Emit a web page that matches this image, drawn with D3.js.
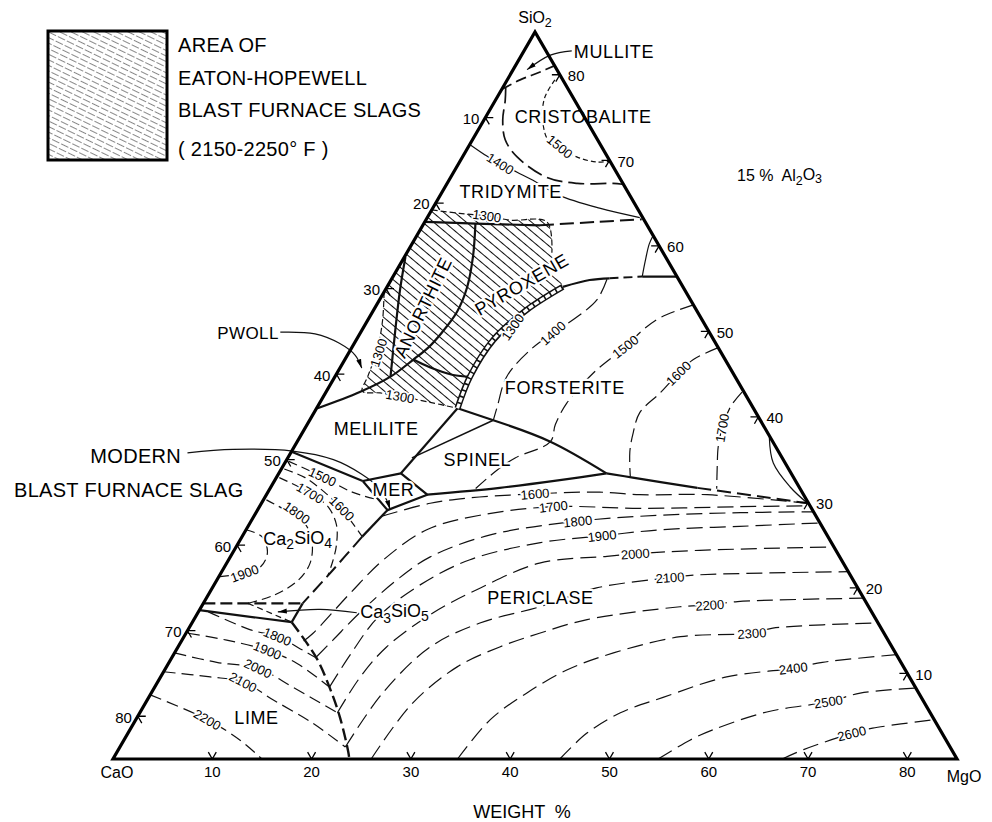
<!DOCTYPE html>
<html><head><meta charset="utf-8">
<script src="https://cdn.jsdelivr.net/npm/d3@7"></script>
<style>
html,body{margin:0;padding:0;background:#fff;}
svg{display:block;}
text{font-family:"Liberation Sans",Arial,sans-serif;fill:#000;}
</style></head><body>
<svg id="chart" width="992" height="822"></svg>
<script>
// ================= DATA =================
// Section CaO-MgO-SiO2 at 15 % Al2O3 : CaO + MgO + SiO2 = 85 wt %
// every composition is [MgO wt %, SiO2 wt %]  (CaO = 85 - MgO - SiO2)
const TOTAL = 85;
const tickValues = [10,20,30,40,50,60,70,80];

// ---- field boundaries ----
const mulliteBoundary   = [[0,78.3],[1.3,79.4],[2.8,80.3],[4.0,81.1]];
const cristTridBoundary = [[0.3,78.5],[1.0,77.0],[1.9,74.7],[3.3,72.4],[5.5,70.4],[9.7,68.0],[13.1,67.3],[16.7,67.3],[17.7,67.2]];
const anTridBoundary    = [[0,62.8],[5.2,62.6],[11.8,62.4]];
const tridPyxBoundary   = [[11.8,62.4],[17.4,62.8],[21.7,63.1]];
const anPyxBoundary     = [[5.2,62.6],[6.9,58.7],[8.1,55.1],[8.5,52.3],[8.2,49.9],[7.7,48.1],[6.9,46.7],[5.6,44.7],[3.4,42.9],[0.1,41.0]];
const anWollBoundary    = [[0.1,58.7],[1.5,54.8],[3.5,49.8],[5.6,44.7]];
const anMelBoundary     = [[6.9,46.7],[9.0,45.8],[11.8,44.9],[13.6,44.7]];
const pyxFoBoundary     = [[14.2,41.0],[13.6,44.7],[13.8,49.0],[15.4,52.5],[17.7,55.2]];
const pyxFoUpper        = [[17.7,55.2],[20.0,56.0],[21.9,56.2]];
const pyxFoUpperDashed  = [[21.9,56.2],[25.1,56.4]];
const pyxFoEdge         = [[25.1,56.4],[28.6,56.4]];
const protoBoundary     = [[25.1,56.4],[24.5,58.2],[23.9,60.2],[23.8,61.1]];
const foMelBoundary     = [[14.2,41.0],[18.5,39.6]];
const melSpBoundary     = [[14.2,41.0],[12.3,33.4]];
const spInnerBoundary   = [[12.5,35.2],[18.5,39.6]];
const melC2SBoundary    = [[0.1,35.9],[8.9,32.5]];
const merBoundary       = [[8.9,32.5],[12.3,33.4],[16.2,30.9],[13.1,29.1],[8.9,32.5]];
const spPerBoundary     = [[16.2,30.9],[23.1,31.7],[28.7,32.6],[33.0,33.4]];
const foSpBoundary      = [[18.5,39.6],[25.5,37.1],[33.0,33.4]];
const foPerBoundary     = [[33.0,33.4],[35.9,32.9],[43.0,31.7]];
const foPerDashed       = [[43.0,31.7],[49.8,30.7],[55.0,29.9]];
const edgeArc           = [[47.3,37.6],[49.2,34.6],[52.3,31.8],[55.0,29.9]];
const c2sPerBoundary    = [[13.1,29.1],[12.1,26.0]];
const c2sPerDashed      = [[12.1,26.0],[11.1,22.1],[10.0,18.2]];
const c3sTop            = [[0,18.2],[10.0,18.2]];
const c3sBottom         = [[0,17.4],[10.0,16.0]];
const c3sSide           = [[10.0,18.2],[10.0,16.0]];
const c3sDiag           = [[4.5,18.2],[10.0,16.0]];
const limePerBoundary   = [[10.0,16.0],[14.6,11.8],[17.6,8.4],[20.4,4.9],[23.3,0.8],[23.8,0]];

// ---- isotherms (deg C) ----
const iso1500Crist = [[4.8,79.4],[4.8,77.4],[5.7,75.1],[7.6,72.4],[9.2,71.6],[11.5,70.4],[13.8,69.8],[15.1,69.9]];
const iso1400Trid  = [[0.1,71.8],[2.4,70.5],[4.2,69.6],[6.4,68.6],[8.8,67.5],[12.0,65.9],[16.8,64.4],[21.4,63.3]];
const iso1300Top   = [[0,64.2],[3.0,63.8],[5.9,63.5],[8.5,63.0],[12.3,62.8],[14.6,59.2]];
const iso1300Low   = [[0,54.6],[1.5,51.3],[2.7,47.8],[3.3,44.7],[3.6,43.0],[5.5,42.8],[7.7,42.4],[11.1,41.7],[14.2,41.0]];
const iso1400Fo    = [[21.7,56.1],[21.9,53.7],[20.9,51.7],[19.4,49.8],[18.1,47.8],[17.3,44.7],[18.1,41.2],[18.5,39.6]];
const iso1500Fo    = [[31.9,53.1],[29.3,51.6],[28.3,50.2],[27.5,48.2],[25.8,45.1],[24.9,41.6],[25.0,39.1],[25.5,37.1],[22.9,35.2],[21.8,33.8],[20.7,31.6]];
const iso1600Fo    = [[36.9,48.1],[35.1,46.7],[34.4,45.1],[33.7,42.8],[32.8,40.5],[33.3,38.2],[34.1,35.9],[35.6,33.0]];
const iso1700Fo    = [[41.9,42.9],[41.6,41.2],[42.0,38.7],[42.7,36.5],[43.8,34.1],[45.0,31.6]];
const iso1500C2S   = [[0.3,34.8],[4.6,33.0],[8.5,31.2],[11.6,30.3]];
const iso1600C2S   = [[0.3,33.9],[2.9,32.9],[5.7,31.2],[8.1,29.5],[10.2,27.7],[12.1,26.0]];
const iso1700C2S   = [[0.3,32.9],[4.3,31.1],[6.9,29.5],[8.8,27.4],[10.0,25.0],[10.6,23.0],[10.9,21.5]];
const iso1800C2S   = [[0.3,30.3],[3.4,28.8],[5.7,27.4],[7.4,25.3],[8.4,22.9],[8.2,20.9],[6.7,19.2],[4.5,18.2]];
const iso1900C2S   = [[0,26.8],[2.0,26.0],[3.5,24.1],[3.6,22.4],[2.2,21.7],[0,21.3]];
const iso1800Lime  = [[1.0,17.2],[6.3,15.1],[9.4,14.3],[12.8,12.7],[14.6,11.8]];
const iso1900Lime  = [[0.2,14.7],[4.5,13.9],[9.2,12.7],[12.9,11.2],[17.6,8.4]];
const iso2000Lime  = [[0,12.4],[4.8,11.3],[9.3,10.6],[13.9,8.4],[19.9,5.4]];
const iso2100Lime  = [[0,10.2],[5.0,9.6],[8.6,9.0],[12.7,6.9],[18.0,4.2],[22.7,1.4]];
const iso2200Lime  = [[0,7.5],[7.2,4.6],[11.7,2.2],[15.0,0]];
const iso1600Per   = [[12.9,28.4],[17.0,29.9],[20.4,30.5],[27.0,31.0],[33.4,31.2],[37.6,30.9],[44.4,30.9],[55.0,29.9]];
const iso1700Per   = [[12.3,13.8],[12.8,14.7],[14.2,19.4],[15.6,23.3],[18.2,26.8],[22.7,28.5],[29.6,29.5],[38.4,29.3],[48.4,29.5],[55.4,29.6]];
const iso1800Per   = [[14.5,11.9],[15.2,13.9],[16.3,17.1],[18.1,20.9],[20.1,23.6],[24.9,26.2],[32.9,27.8],[40.8,28.5],[48.8,28.8],[56.1,28.9]];
const iso1900Per   = [[17.6,8.4],[17.8,12.2],[18.4,16.6],[20.7,20.3],[24.3,23.3],[30.4,25.3],[36.2,26.1],[41.7,26.8],[49.5,27.2],[57.4,27.6]];
const iso2000Per   = [[19.9,5.4],[20.1,9.5],[21.0,13.1],[23.7,17.1],[27.0,20.0],[31.5,22.9],[37.9,23.7],[40.6,24.0],[46.9,24.4],[60.1,24.8]];
const iso2100Per   = [[22.7,1.4],[23.3,7.7],[25.4,13.1],[29.0,15.9],[34.1,17.8],[38.7,20.0],[45.5,21.2],[47.7,21.5],[63.1,21.9]];
const iso2200Per   = [[26.0,0],[26.9,6.5],[29.3,10.8],[32.4,13.1],[35.6,14.7],[39.6,16.3],[48.2,17.8],[51.1,18.0],[53.7,18.4],[66.1,18.8]];
const iso2300Per   = [[34.7,0],[35.7,4.6],[37.8,7.7],[40.5,10.4],[44.2,12.4],[50.0,14.3],[57.0,14.7],[58.8,15.3],[69.1,15.9]];
const iso2400Per   = [[45.0,0],[46.2,3.0],[48.4,5.4],[51.8,7.2],[57.0,9.6],[63.2,10.6],[65.8,11.3],[72.8,12.2]];
const iso2500Per   = [[54.9,0],[57.0,2.2],[58.7,3.4],[63.1,5.5],[68.7,6.7],[71.4,7.7],[76.7,8.3]];
const iso2600Per   = [[67.4,0],[69.0,1.1],[72.9,3.0],[74.7,3.6],[80.4,4.6]];

// ---- leaders ----
const mulliteLeader = [[4.8,82.8],[2.9,82.3],[1.4,80.6]];
const pwollLeader   = [[-8.1,49.9],[-4.5,49.7],[-1.5,48.6],[0.8,47.2],[2.2,45.7]];
const modernLeader  = [[-10.4,35.8],[-6.0,36.2],[0.1,36.0],[4.7,35.0],[8.4,33.3],[10.8,31.8],[12.4,30.3],[13.3,29.2]];
const c3sLeader     = [[16.0,17.1],[12.1,17.5],[8.0,17.2]];

// ---- text ----
const fieldNames  = ["CRISTOBALITE","TRIDYMITE","ANORTHITE","PYROXENE","FORSTERITE","MELILITE","SPINEL","MER","PERICLASE","LIME"];
const fieldAt     = [[9.8,75.1],[6.9,66.3],[4.8,52.8],[13.4,55.5],[23.8,43.4],[7.2,38.6],[19.2,35.0],[12.5,31.5],[33.6,18.9],[12.0,4.9]];
const isoText     = ["1500","1400","1300","1300","1300","1300","1400","1500","1600","1700",
                     "1500","1600","1700","1800","1900",
                     "1800","1900","2000","2100","2200",
                     "1600","1700","1800","1900","2000","2100","2200","2300","2400","2500","2600"];
const isoTextAt   = [[9.2,71.6],[4.2,69.6],[5.9,63.5],[3.0,47.5],[7.7,42.4],[15.0,50.5],[19.4,49.8],[27.5,48.2],[34.4,45.1],[42.0,38.7],
                     [4.6,33.0],[8.4,29.3],[4.3,31.1],[4.1,28.8],[2.4,21.7],
                     [9.4,14.3],[9.2,12.7],[9.3,10.6],[8.6,9.0],[7.2,4.6],
                     [27.0,31.0],[29.6,29.5],[32.9,27.8],[36.2,26.1],[40.6,24.0],[45.5,21.2],[51.1,18.0],[57.0,14.7],[63.2,10.6],[68.7,6.7],[72.9,3.0]];
const legendLines = ["AREA OF","EATON-HOPEWELL","BLAST FURNACE SLAGS","( 2150-2250° F )"];

// ================= LAYOUT / STYLE =================
const svg = d3.select('#chart');
const xB = d3.scaleLinear().domain([0,TOTAL]).range([113,957]);
const yH = d3.scaleLinear().domain([0,TOTAL]).range([759,32]);
const P = ([m,s]) => [xB(m) + (xB(s)-xB(0))/2, yH(s)];
const smooth   = d3.line().x(d=>P(d)[0]).y(d=>P(d)[1]).curve(d3.curveCatmullRom.alpha(0.5));
const straight = d3.line().x(d=>P(d)[0]).y(d=>P(d)[1]).curve(d3.curveLinear);

const defs = svg.append('defs');
const pat = defs.append('pattern').attr('id','hatch').attr('patternUnits','userSpaceOnUse')
  .attr('width',7).attr('height',7).attr('patternTransform','rotate(40)');
pat.append('line').attr('x1',0).attr('y1',3.5).attr('x2',7).attr('y2',3.5).attr('stroke','#000').attr('stroke-width',0.95);
const patL = defs.append('pattern').attr('id','hatchL').attr('patternUnits','userSpaceOnUse')
  .attr('width',10).attr('height',5).attr('patternTransform','rotate(26)');
patL.append('line').attr('x1',0).attr('y1',2.5).attr('x2',10).attr('y2',2.5).attr('stroke','#555')
  .attr('stroke-width',0.7).attr('stroke-dasharray','6,2');
defs.append('marker').attr('id','arrow').attr('viewBox','0 0 10 10').attr('refX',10).attr('refY',5)
  .attr('markerWidth',9).attr('markerHeight',9).attr('markerUnits','userSpaceOnUse').attr('orient','auto')
  .append('path').attr('d','M0,2.2 L10,5 L0,7.8 Z').attr('fill','#000');

function draw(g, pts, gen, w, dash, marker){
  const p = g.append('path').attr('d', gen(pts)).attr('fill','none').attr('stroke','#111')
    .attr('stroke-width', w).attr('stroke-linejoin','round');
  if (dash) p.attr('stroke-dasharray', dash);
  if (marker) p.attr('marker-end', 'url(#'+marker+')');
  return p;
}
function joinPaths(pieces){ return pieces.map((d,i)=> i ? d.replace(/^M/,'L') : d).join('') + 'Z'; }

// hatched Eaton-Hopewell slag area
svg.append('path').attr('fill','url(#hatch)').attr('d', joinPaths([
  straight([[0,64.2],[0,54.6]]),
  smooth(iso1300Low),
  smooth(pyxFoBoundary),
  straight([pyxFoBoundary[pyxFoBoundary.length-1], iso1300Top[iso1300Top.length-1]]),
  smooth(iso1300Top.slice().reverse())
]));

// isotherms
const gIso = svg.append('g');
[[iso1500Crist,'5,3'],[iso1400Trid,null],[iso1300Top,'6,3'],[iso1300Low,'6,3'],
 [iso1400Fo,'16,6'],[iso1500Fo,'14,6'],[iso1600Fo,'14,6'],[iso1700Fo,'14,6'],
 [iso1500C2S,'9,5'],[iso1600C2S,'9,5'],[iso1700C2S,'9,5'],[iso1800C2S,'9,5'],[iso1900C2S,'9,5'],
 [iso1800Lime,'12,6'],[iso1900Lime,'12,6'],[iso2000Lime,'12,6'],[iso2100Lime,'12,6'],[iso2200Lime,'12,6'],
 [iso1600Per,'16,7'],[iso1700Per,'16,7'],[iso1800Per,'16,7'],[iso1900Per,'16,7'],[iso2000Per,'16,7'],
 [iso2100Per,'16,7'],[iso2200Per,'16,7'],[iso2300Per,'16,7'],[iso2400Per,'16,7'],[iso2500Per,'16,7'],[iso2600Per,'16,7']
].forEach(([pts,dash]) => draw(gIso, pts, smooth, 1.2, dash));

// boundaries
const gB = svg.append('g');
const BW = 2.2;
draw(gB, mulliteBoundary, smooth, 1.7, '11,5');
draw(gB, cristTridBoundary, smooth, 1.7, '16,6');
draw(gB, anTridBoundary, smooth, BW);
draw(gB, tridPyxBoundary, smooth, 2, '14,6');
draw(gB, anPyxBoundary, smooth, BW);
draw(gB, anWollBoundary, smooth, BW);
draw(gB, anMelBoundary, smooth, BW);
draw(gB, pyxFoUpper, smooth, BW);
draw(gB, pyxFoUpperDashed, straight, 2, '9,5');
draw(gB, pyxFoEdge, straight, BW);
draw(gB, protoBoundary, smooth, 1.2);
draw(gB, foMelBoundary, straight, BW);
draw(gB, melSpBoundary, straight, BW);
draw(gB, spInnerBoundary, straight, 1.5);
draw(gB, melC2SBoundary, straight, BW);
draw(gB, merBoundary, straight, BW);
draw(gB, spPerBoundary, smooth, BW);
draw(gB, foSpBoundary, smooth, BW);
draw(gB, foPerBoundary, smooth, BW);
draw(gB, foPerDashed, smooth, 2, '14,6');
draw(gB, edgeArc, smooth, 1.2);
draw(gB, c2sPerBoundary, straight, BW);
draw(gB, c2sPerDashed, smooth, 2, '14,6');
draw(gB, c3sTop, straight, 2.2, '12,5');
draw(gB, c3sBottom, straight, BW);
draw(gB, c3sSide, straight, BW);
draw(gB, c3sDiag, straight, 1.2, '6,4');
draw(gB, limePerBoundary, smooth, 2.4, '12,5');
// 1300 "railroad" boundary
draw(gB, pyxFoBoundary, smooth, 6.2);
draw(gB, pyxFoBoundary, smooth, 3.2, '5,1.6').attr('stroke','#fff');

// leaders
draw(gB, mulliteLeader, smooth, 1.2, null, 'arrow');
draw(gB, pwollLeader, smooth, 1.2, null, 'arrow');
draw(gB, modernLeader, smooth, 1.2, null, 'arrow');
draw(gB, c3sLeader, smooth, 1.2, null, 'arrow');

// ---- text helpers ----
function txt(g, str, xy, size, opt){
  opt = opt || {};
  const t = g.append('text')
    .attr('transform', 'translate('+xy[0]+','+xy[1]+') rotate('+(opt.rot||0)+')')
    .attr('text-anchor', opt.anchor || 'middle').attr('dy','0.36em')
    .style('font-size', size+'px');
  if (opt.ls) t.style('letter-spacing', opt.ls+'px');
  if (opt.halo) t.attr('stroke','#fff').attr('stroke-width',opt.halo).attr('stroke-linejoin','round').attr('paint-order','stroke');
  if (Array.isArray(str)) {
    str.forEach(([s,sub]) => {
      t.append('tspan').text(s).attr('dy', sub===1 ? '0.3em' : (sub===-1 ? '-0.3em' : null))
        .style('font-size', sub===1 ? (size*0.78)+'px' : null);
    });
  } else t.text(str);
  return t;
}

const gT = svg.append('g');
// field labels
const fieldAngles = [0,0,-64,-30,0,0,0,0,0,0];
fieldNames.forEach((n,i) => txt(gT, n, P(fieldAt[i]), 18, {rot: fieldAngles[i], ls:0.6, halo:4.5}));
txt(gT, [["Ca",0],["2",1],["SiO",-1],["4",1]], P([5.7,25.8]), 18, {halo:4});
txt(gT, [["Ca",0],["3",1],["SiO",-1],["5",1]], P([16.3,17.2]), 18, {anchor:'start', halo:4});
txt(gT, "MULLITE", P([9.1,82.7]), 18, {ls:0.6});
txt(gT, "PWOLL", P([-8.2,49.8]), 17, {anchor:'end', ls:0.4});
txt(gT, "MODERN", P([-10.9,35.5]), 20, {anchor:'end', ls:0.3});
txt(gT, "BLAST FURNACE SLAG", P([-2.6,31.5]), 20, {anchor:'end', ls:0.3});

// isotherm labels
const isoAngles = [40,32,8,-72,10,-55,-42,-38,-45,-80, 25,45,30,35,-20, 22,22,25,28,30, -5,-6,-6,-6,-4,-4,-4,-4,-7,-9,-14];
isoText.forEach((t,i) => txt(gT, t, P(isoTextAt[i]), 13, {rot: isoAngles[i], halo:3.5}));

// triangle
svg.append('path').attr('d', straight([[0,0],[TOTAL,0],[0,TOTAL]]) + 'Z')
  .attr('fill','none').attr('stroke','#000').attr('stroke-width',3.2).attr('stroke-linejoin','miter');

// ticks (stubs along the two grid directions) and labels
const gTick = svg.append('g');
const dT = 0.8;
tickValues.forEach(v => {
  const bottom = [v,0], left = [0,TOTAL-v], right = [TOTAL-v, v];
  [[bottom,[v,dT],[v-dT,dT]],
   [left,[dT,TOTAL-v],[dT,TOTAL-v-dT]],
   [right,[TOTAL-v-dT,v],[TOTAL-v,v-dT]]].forEach(([o,a,b]) => {
     gTick.append('path').attr('d', straight([a,o,b])).attr('fill','none').attr('stroke','#000').attr('stroke-width',1.3);
   });
  const pb = P(bottom), pl = P(left), pr = P(right);
  txt(gTick, String(v), [pb[0], pb[1]+13], 15);
  txt(gTick, String(v), [pl[0]-6, pl[1]+1], 15, {anchor:'end'});
  txt(gTick, String(v), [pr[0]+8, pr[1]+1], 15, {anchor:'start'});
});

// corner labels
const pC = P([0,0]), pM = P([TOTAL,0]), pS = P([0,TOTAL]);
txt(svg, "CaO", [pC[0]+4, pC[1]+13], 16);
txt(svg, "MgO", [pM[0]+7, pM[1]+17], 16);
txt(svg, [["SiO",0],["2",1]], [pS[0], pS[1]-15], 16);
txt(svg, "WEIGHT  %", [522, 812], 18).style('white-space','pre');
txt(svg, [["15 %  Al",0],["2",1],["O",-1],["3",1]], [737, 175], 16, {anchor:'start'}).style('white-space','pre');

// legend
svg.append('rect').attr('x',48).attr('y',31).attr('width',119).attr('height',129)
  .attr('fill','url(#hatchL)').attr('stroke','#000').attr('stroke-width',3);
const legendY = [45,78,110,149];
legendLines.forEach((l,i) => txt(svg, l, [178, legendY[i]], 20, {anchor:'start', ls:0.3}).style('white-space','pre'));
</script>
</body></html>
